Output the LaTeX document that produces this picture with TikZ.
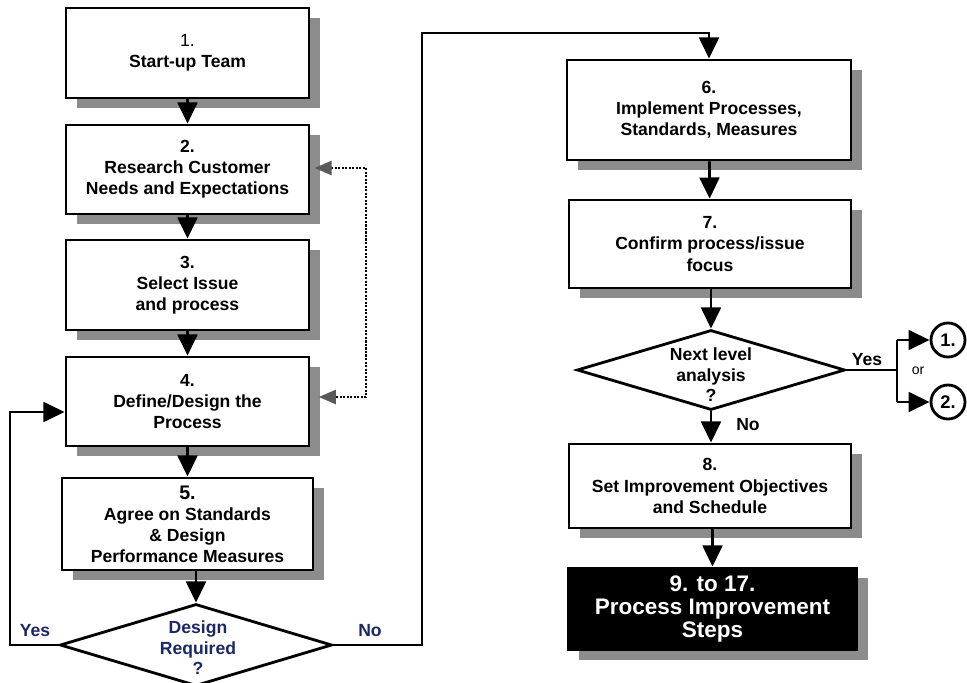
\documentclass[tikz,border=0pt]{standalone}
\usepackage{fontspec}
\setmainfont{Liberation Sans}
\usetikzlibrary{shapes.geometric,shadows,arrows.meta}

\definecolor{shadowgray}{RGB}{140,140,140}
\definecolor{decnavy}{RGB}{28,40,100}

\tikzset{
  stepbox/.style={draw, line width=2pt, fill=white, align=center,
    font=\bfseries\fontsize{12.5}{15}\selectfont, inner sep=2pt,
    drop shadow={shadow xshift=0.27cm, shadow yshift=-0.25cm,
      fill=shadowgray, opacity=1}},
  lastbox/.style={stepbox, fill=black, text=white,
    font=\bfseries\fontsize{16}{16.5}\selectfont},
  decision/.style={diamond, draw, line width=2pt, fill=white, inner sep=0pt},
  dectext/.style={align=center, font=\bfseries\fontsize{12.5}{14.5}\selectfont},
  returncircle/.style={circle, draw, line width=2pt, minimum size=0.85cm,
    inner sep=0pt, font=\bfseries\fontsize{13}{15}\selectfont},
  flowline/.style={line width=2pt},
  flowarrow/.style={line width=2pt, -{Triangle[width=14pt,length=15pt]}},
  feedback/.style={line width=1.5pt, densely dotted,
    {Triangle[width=10pt,length=12pt,black!65]}-{Triangle[width=10pt,length=12pt,black!65]}},
  answer/.style={font=\bfseries\fontsize{12.5}{15}\selectfont}
}

\begin{document}
\begin{tikzpicture}[x=0.025cm, y=-0.025cm]
  \useasboundingbox (0,0) rectangle (967,683);

  % Left column of steps
  \node[stepbox, minimum width=6.075cm, minimum height=2.25cm] (box1) at (187.5,53)
    {{\mdseries 1.}\\Start-up Team};
  \node[stepbox, minimum width=6.075cm, minimum height=2.225cm] (box2) at (187.5,169.5)
    {2.\\Research Customer\\Needs and Expectations};
  \node[stepbox, minimum width=6.075cm, minimum height=2.25cm] (box3) at (187.5,285)
    {3.\\Select Issue\\and process};
  \node[stepbox, minimum width=6.075cm, minimum height=2.225cm] (box4) at (187.5,401.5)
    {4.\\Define/Design the\\Process};
  \node[stepbox, minimum width=6.275cm, minimum height=2.3cm] (box5) at (187.5,524)
    {{\fontsize{14}{15}\selectfont 5.}\\Agree on Standards\\\& Design\\Performance Measures};

  % First decision
  \node[decision, minimum width=6.8cm, minimum height=2.05cm] (dec1) at (196,645) {};
  \node[dectext, text=decnavy] (dec1text) at (198,648) {Design\\Required\\?};

  % Right column of steps
  \node[stepbox, minimum width=7.1cm, minimum height=2.5cm] (box6) at (709,110)
    {6.\\Implement Processes,\\Standards, Measures};
  \node[stepbox, minimum width=7.05cm, minimum height=2.2cm] (box7) at (710,244)
    {7.\\Confirm process/issue\\focus};
  \node[decision, minimum width=6.7cm, minimum height=2.0cm] (dec2) at (711,370) {};
  \node[dectext] (dec2text) at (711,375) {Next level\\analysis\\?};
  \node[stepbox, minimum width=7.05cm, minimum height=2.1cm] (box8) at (710,486)
    {8.\\Set Improvement Objectives\\and Schedule};
  \node[lastbox, minimum width=7.225cm, minimum height=2.05cm] (box9) at (712.5,609)
    {9. to 17.\\Process Improvement\\Steps};

  % Return points
  \node[returncircle] (ret1) at (948,340) {1.};
  \node[returncircle] (ret2) at (948,402) {2.};

  % Main flow
  \draw[flowarrow] (box1) -- (box2);
  \draw[flowarrow] (box2) -- (box3);
  \draw[flowarrow] (box3) -- (box4);
  \draw[flowarrow] (box4) -- (box5);
  \draw[flowarrow] (box5.south -| dec1) -- (dec1.north);
  \draw[flowarrow] (box6) -- (box7);
  \draw[flowarrow] (box7.south -| dec2) -- (dec2.north);
  \draw[flowarrow] (dec2.south) -- (box8.north -| dec2);
  \draw[flowarrow] (box8.south -| box9) -- (box9.north);

  % Yes / No branches of the first decision
  \coordinate (yesturn) at (10,412);
  \coordinate (noturn) at (422,33);
  \draw[flowarrow] (dec1.west) -| (yesturn) -- (box4.west |- yesturn);
  \draw[flowarrow] (dec1.east) -| (noturn) -| (box6.north);
  \node[answer, text=decnavy] (yes1) at (35,631) {Yes};
  \node[answer, text=decnavy] (no1) at (370,631) {No};

  % Yes branch of the second decision
  \coordinate (split) at (897,370);
  \draw[flowline] (dec2.east) -- (split);
  \draw[flowline] (split |- ret1) -- (split |- ret2);
  \draw[flowarrow] (split |- ret1) -- (ret1.west);
  \draw[flowarrow] (split |- ret2) -- (ret2.west);
  \node[answer] (yes2) at (867,360) {Yes};
  \node[answer] (no2) at (748,425) {No};
  \node[font=\fontsize{10}{12}\selectfont] (ortext) at (918,371) {or};

  % Dotted feedback between steps 2 and 4
  \coordinate (fbtop) at (366,168);
  \coordinate (fbbot) at (366,397);
  \draw[feedback] ([xshift=3pt]box2.east |- fbtop) -- (fbtop) -- (fbbot) -- ([xshift=6pt]box4.east |- fbbot);
\end{tikzpicture}
\end{document}
